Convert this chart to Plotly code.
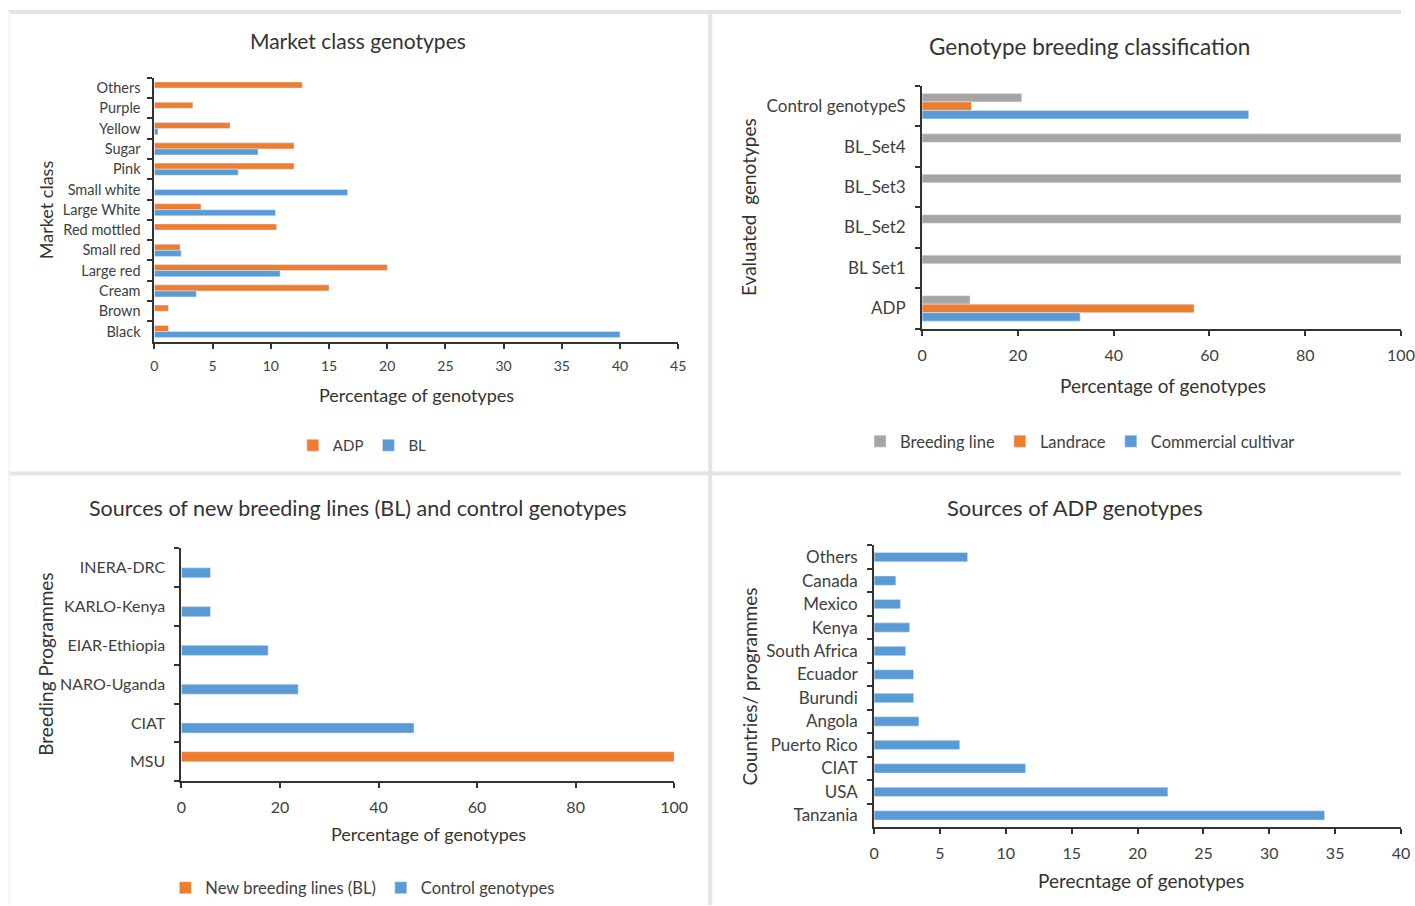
import plotly.graph_objects as go

W, H = 1415, 906

# ---------------- DATA ----------------
# Panel 1: Market class genotypes (bottom -> top)
market_classes = ["Black", "Brown", "Cream", "Large red", "Small red", "Red mottled",
                  "Large White", "Small white", "Pink", "Sugar", "Yellow", "Purple", "Others"]
market_adp = [1.2, 1.2, 15.0, 20.0, 2.2, 10.5, 4.0, 0, 12.0, 12.0, 6.5, 3.3, 12.7]
market_bl = [40.0, 0, 3.6, 10.8, 2.3, 0, 10.4, 16.6, 7.2, 8.9, 0.3, 0, 0]

# Panel 2: Genotype breeding classification (bottom -> top)
evaluated = ["ADP", "BL Set1", "BL_Set2", "BL_Set3", "BL_Set4", "Control genotypeS"]
breeding_line = [10.0, 100, 100, 100, 100, 20.8]
landrace = [56.8, 0, 0, 0, 0, 10.3]
commercial = [33.0, 0, 0, 0, 0, 68.2]

# Panel 3: Sources of new breeding lines and control genotypes (bottom -> top)
programmes = ["MSU", "CIAT", "NARO-Uganda", "EIAR-Ethiopia", "KARLO-Kenya", "INERA-DRC"]
new_bl = [100, 0, 0, 0, 0, 0]
control_gen = [0, 47.2, 23.7, 17.6, 5.9, 5.9]

# Panel 4: Sources of ADP genotypes (bottom -> top)
sources = ["Tanzania", "USA", "CIAT", "Puerto Rico", "Angola", "Burundi", "Ecuador",
           "South Africa", "Kenya", "Mexico", "Canada", "Others"]
adp_sources = [34.2, 22.3, 11.5, 6.5, 3.4, 3.0, 3.0, 2.4, 2.7, 2.0, 1.65, 7.1]

# ---------------- STYLE ----------------
ORANGE = "#ED7D31"
BLUE = "#5B9BD5"
GRAY = "#A5A5A5"
TXT = "#404040"
AX = "#333333"
FONT = "Lato"


def px_x(x):
    return ((x - 4.5) / 0.987) / W


def px_y(y):
    return 1 - y / H


fig = go.Figure()

# Panel 1 traces
fig.add_trace(go.Bar(y=market_classes, x=market_adp, orientation="h", name="ADP",
                     marker_color=ORANGE, offset=0.0, width=0.3,
                     xaxis="x", yaxis="y", legend="legend"))
fig.add_trace(go.Bar(y=market_classes, x=market_bl, orientation="h", name="BL",
                     marker_color=BLUE, offset=-0.3, width=0.3,
                     xaxis="x", yaxis="y", legend="legend"))

# Panel 2 traces
fig.add_trace(go.Bar(y=evaluated, x=breeding_line, orientation="h", name="Breeding line",
                     marker_color=GRAY, offset=0.105, width=0.21,
                     xaxis="x2", yaxis="y2", legend="legend2"))
fig.add_trace(go.Bar(y=evaluated, x=landrace, orientation="h", name="Landrace",
                     marker_color=ORANGE, offset=-0.105, width=0.21,
                     xaxis="x2", yaxis="y2", legend="legend2"))
fig.add_trace(go.Bar(y=evaluated, x=commercial, orientation="h", name="Commercial cultivar",
                     marker_color=BLUE, offset=-0.315, width=0.21,
                     xaxis="x2", yaxis="y2", legend="legend2"))

# Panel 3 traces
fig.add_trace(go.Bar(y=programmes, x=new_bl, orientation="h", name="New breeding lines (BL)",
                     marker_color=ORANGE, offset=0.0, width=0.26,
                     xaxis="x3", yaxis="y3", legend="legend3"))
fig.add_trace(go.Bar(y=programmes, x=control_gen, orientation="h", name="Control genotypes",
                     marker_color=BLUE, offset=-0.26, width=0.26,
                     xaxis="x3", yaxis="y3", legend="legend3"))

# Panel 4 trace
fig.add_trace(go.Bar(y=sources, x=adp_sources, orientation="h", name="ADP sources",
                     marker_color=BLUE, offset=-0.2, width=0.4, showlegend=False,
                     xaxis="x4", yaxis="y4"))


def xaxis_cfg(dom, rng, dtick, size, anchor):
    return dict(domain=dom, range=rng, dtick=dtick, tick0=0, showgrid=False, zeroline=False,
                showline=True, linecolor=AX, linewidth=2, ticks="outside", ticklen=5,
                tickcolor=AX, tickwidth=1.5, tickfont=dict(family=FONT, size=size, color=TXT),
                anchor=anchor, fixedrange=True, ticklabelstandoff=6)


def yaxis_cfg(dom, size, anchor, standoff):
    return dict(domain=dom, type="category", showgrid=False, zeroline=False,
                showline=True, linecolor=AX, linewidth=2, ticks="outside", ticklen=5,
                tickcolor=AX, tickwidth=1.5, tickson="boundaries",
                tickfont=dict(family=FONT, size=size, color=TXT), anchor=anchor,
                fixedrange=True, ticklabelstandoff=standoff)


layout = dict(
    width=W, height=H, margin=dict(l=0, r=0, t=0, b=0),
    paper_bgcolor="white", plot_bgcolor="white", barmode="overlay",
    font=dict(family=FONT, color=TXT),
    xaxis=xaxis_cfg([px_x(154), px_x(678)], [0, 45], 5, 14, "y"),
    yaxis=yaxis_cfg([px_y(342), px_y(78)], 14.5, "x", 9),
    xaxis2=xaxis_cfg([px_x(922), min(1.0, px_x(1405))], [0, 100], 20, 16, "y2"),
    yaxis2=yaxis_cfg([px_y(329), px_y(86)], 17, "x2", 11),
    xaxis3=xaxis_cfg([px_x(181), px_x(674)], [0, 100], 20, 16, "y3"),
    yaxis3=yaxis_cfg([px_y(782), px_y(549)], 16, "x3", 11),
    xaxis4=xaxis_cfg([px_x(874), min(1.0, px_x(1410))], [0, 40], 5, 16, "y4"),
    yaxis4=yaxis_cfg([px_y(828), px_y(546)], 17, "x4", 11),
    legend=dict(orientation="h", x=px_x(362), y=px_y(446), xanchor="center", yanchor="middle",
                font=dict(family=FONT, size=15, color=TXT), itemwidth=30, bgcolor="rgba(0,0,0,0)"),
    legend2=dict(orientation="h", x=px_x(1080), y=px_y(442), xanchor="center", yanchor="middle",
                 font=dict(family=FONT, size=16.5, color=TXT), itemwidth=30, bgcolor="rgba(0,0,0,0)"),
    legend3=dict(orientation="h", x=px_x(362), y=px_y(889), xanchor="center", yanchor="middle",
                 font=dict(family=FONT, size=16.5, color=TXT), itemwidth=30, bgcolor="rgba(0,0,0,0)"),
)

annotations = []


def ann(text, x, y, size, angle=0):
    annotations.append(dict(text=text, x=px_x(x), y=px_y(y), xref="paper", yref="paper",
                            xanchor="center", yanchor="middle", showarrow=False, textangle=angle,
                            font=dict(family=FONT, size=size, color="#333333")))


# Titles
ann("Market class genotypes", 358, 41, 21)
ann("Genotype breeding classification", 1089, 47, 22.5)
ann("Sources of new breeding lines (BL) and control genotypes", 358, 509, 21.5)
ann("Sources of ADP genotypes", 1075, 508, 22)
# Y-axis titles
ann("Market class", 45, 210, 18, -90)
ann("Evaluated  genotypes", 749, 207, 19, -90)
ann("Breeding Programmes", 45, 665, 19, -90)
ann("Countries/ programmes", 749, 687, 19, -90)
# X-axis titles
ann("Percentage of genotypes", 416, 395, 18)
ann("Percentage of genotypes", 1163, 386, 19)
ann("Percentage of genotypes", 428, 835, 18)
ann("Perecntage of genotypes", 1141, 881, 19)

layout["annotations"] = annotations

# Panel border lines
BORDER = "#E4E4E4"
layout["shapes"] = [
    dict(type="line", xref="paper", yref="paper", x0=px_x(8), x1=1, y0=px_y(12), y1=px_y(12),
         line=dict(color=BORDER, width=4)),
    dict(type="line", xref="paper", yref="paper", x0=px_x(8), x1=1, y0=px_y(474), y1=px_y(474),
         line=dict(color=BORDER, width=4)),
    dict(type="line", xref="paper", yref="paper", x0=px_x(710), x1=px_x(710), y0=0, y1=px_y(12),
         line=dict(color=BORDER, width=4)),
    dict(type="line", xref="paper", yref="paper", x0=px_x(9), x1=px_x(9), y0=0, y1=px_y(12),
         line=dict(color="#F3F3F3", width=2)),
]

fig.update_layout(**layout)
fig.write_html(
    "out.html",
    config={"displayModeBar": False},
    post_script="document.body.style.margin='0';document.body.style.overflow='hidden';",
)
